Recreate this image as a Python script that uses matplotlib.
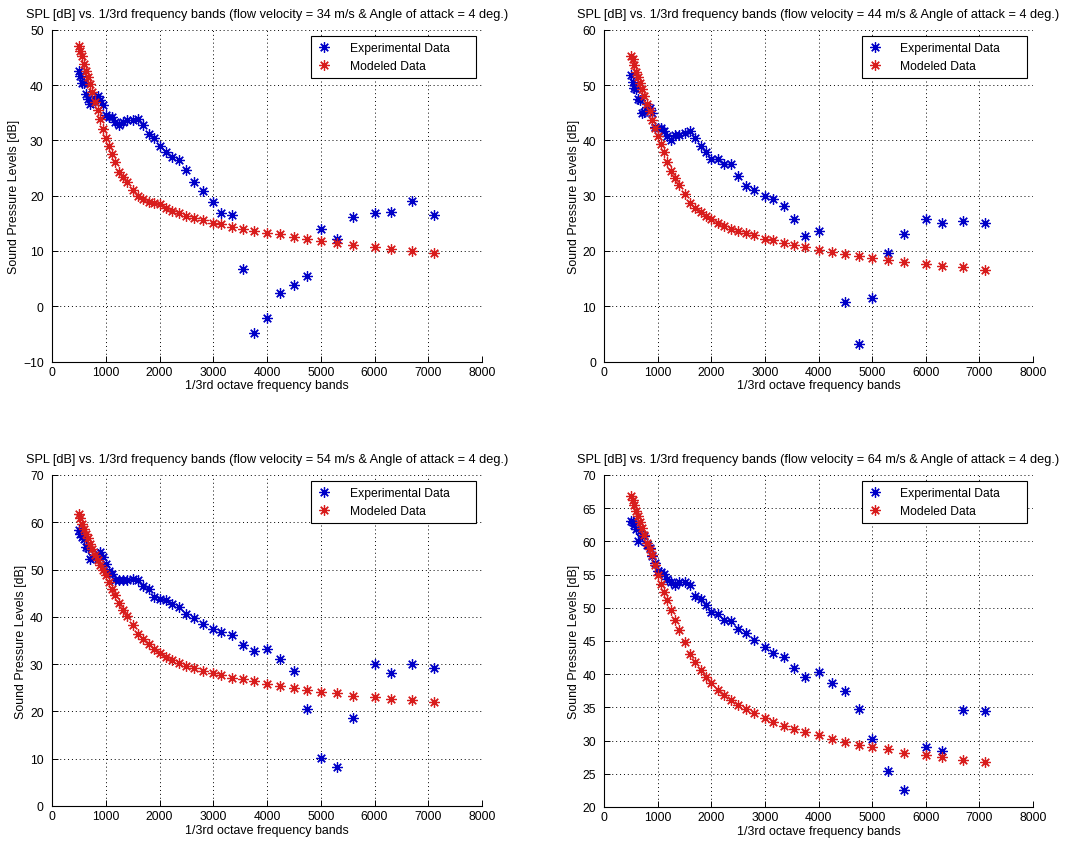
import numpy as np
import matplotlib

matplotlib.use("Agg")

import matplotlib.pyplot as plt

plt.rcParams["font.family"] = ["Liberation Sans", "DejaVu Sans"]

# 1/12-octave band centre frequencies [Hz]
freqs = [500, 530, 560, 600, 630, 670, 710, 750, 800, 850, 900, 950,
         1000, 1060, 1120, 1180, 1250, 1320, 1400, 1500, 1600, 1700, 1800, 1900,
         2000, 2120, 2240, 2360, 2500, 2650, 2800, 3000, 3150, 3350, 3550, 3750,
         4000, 4250, 4500, 4750, 5000, 5300, 5600, 6000, 6300, 6700, 7100]

velocities = [34, 44, 54, 64]

exp_34 = [42.6, 41.6, 40.4, 40.3, 38.4, 37.5, 36.6, 36.9, 37.5, 38.0, 37.2, 36.4,
          34.5, 34.3, 34.3, 33.3, 32.8, 33.3, 33.6, 33.7, 33.9, 32.7, 31.1, 30.4,
          29.0, 27.8, 27.0, 26.4, 24.6, 22.5, 20.8, 18.9, 16.8, 16.5, 6.8, -4.8,
          -2.1, 2.3, 3.9, 5.5, 14.0, 12.2, 16.1, 16.9, 17.0, 19.0, 16.5]
mod_34 = [47.1, 46.2, 45.3, 43.8, 42.6, 41.4, 40.1, 38.7, 37.0, 35.4, 33.9, 32.1,
          30.5, 29.0, 27.5, 26.0, 24.3, 23.3, 22.4, 21.1, 20.0, 19.4, 18.9, 18.7,
          18.4, 17.7, 17.2, 16.9, 16.4, 15.9, 15.5, 15.1, 14.8, 14.3, 14.0, 13.6,
          13.3, 13.0, 12.5, 12.2, 11.8, 11.4, 11.1, 10.7, 10.4, 10.0, 9.7]

exp_44 = [51.8, 50.5, 49.5, 49.3, 47.5, 47.3, 45.0, 45.1, 46.0, 45.8, 44.9, 42.4,
          42.3, 42.2, 41.6, 40.8, 40.1, 41.0, 40.9, 41.3, 41.6, 40.4, 38.9, 37.8,
          36.6, 36.6, 35.7, 35.7, 33.6, 31.8, 31.0, 29.9, 29.3, 28.1, 25.7, 22.7,
          23.6, np.nan, 10.7, 3.2, 11.4, 19.6, 23.1, 25.7, 25.0, 25.4, 25.0]
mod_44 = [55.3, 54.7, 53.7, 52.3, 51.4, 50.4, 49.2, 48.0, 46.6, 45.3, 43.7, 42.2,
          40.8, 39.3, 37.8, 36.1, 34.5, 33.1, 31.9, 30.3, 28.7, 27.8, 27.0, 26.3,
          25.7, 25.1, 24.5, 24.0, 23.6, 23.3, 22.8, 22.2, 21.9, 21.5, 21.1, 20.7,
          20.2, 19.8, 19.5, 19.1, 18.7, 18.3, 18.0, 17.7, 17.3, 17.0, 16.6]

exp_54 = [58.4, 57.6, 56.9, 56.4, 54.8, 54.5, 52.3, 52.6, 52.4, 53.3, 53.7, 52.6,
          51.2, 49.8, 49.1, 47.9, 47.7, 47.7, 47.9, 48.0, 47.9, 46.5, 45.9, 44.2,
          43.7, 43.5, 42.7, 42.0, 40.5, 39.7, 38.4, 37.5, 36.8, 36.1, 34.0, 32.8,
          33.2, 31.1, 28.6, 20.5, 10.2, 8.2, 18.6, 30.1, 28.2, 30.1, 29.2]
mod_54 = [61.8, 60.9, 59.6, 58.6, 57.5, 56.6, 55.4, 54.4, 53.1, 52.0, 51.0, 50.0,
          48.9, 47.3, 45.9, 44.6, 43.0, 41.5, 40.1, 38.3, 36.4, 35.3, 34.3, 33.2,
          32.4, 31.6, 30.9, 30.3, 29.7, 29.1, 28.6, 28.1, 27.6, 27.1, 26.8, 26.4,
          25.7, 25.3, 24.9, 24.5, 24.2, 23.8, 23.3, 23.0, 22.6, 22.4, 22.0]

exp_64 = [63.1, 62.9, 62.5, 61.9, 60.0, 61.5, 61.0, 60.8, 59.5, 59.0, 57.8, 56.8,
          55.6, 55.4, 55.1, 54.3, 53.9, 53.4, 53.9, 53.9, 53.4, 51.8, 51.4, 50.4,
          49.3, 49.1, 48.2, 48.0, 46.8, 46.2, 45.2, 44.1, 43.2, 42.6, 41.0, 39.6,
          40.3, 38.6, 37.5, 34.8, 30.2, 25.4, 22.6, 29.1, 28.4, 34.6, 34.4]
mod_64 = [66.9, 66.2, 65.5, 64.6, 63.8, 62.9, 62.0, 61.0, 59.8, 58.8, 57.9, 56.5,
          55.0, 53.6, 52.4, 51.1, 49.6, 48.1, 46.7, 44.8, 43.0, 41.9, 40.7, 39.6,
          38.6, 37.6, 36.9, 36.1, 35.3, 34.8, 34.2, 33.4, 32.8, 32.2, 31.8, 31.3,
          30.8, 30.3, 29.8, 29.4, 29.0, 28.7, 28.2, 27.8, 27.5, 27.1, 26.8]

exp_data = [exp_34, exp_44, exp_54, exp_64]
mod_data = [mod_34, mod_44, mod_54, mod_64]

y_ranges = [(-10, 50, 10), (0, 60, 10), (0, 70, 10), (20, 70, 5)]

W, H = 1066, 845
# axes boxes in pixels: left, top, right, bottom
boxes = [(52, 30.7, 482, 362.5), (604.3, 30.7, 1032.7, 362.5),
         (52, 476, 482, 807), (604.3, 476, 1032.7, 808)]

# matlab-like asterisk marker (8 spokes)
star = (8, 2, 0)

fig = plt.figure(figsize=(W / 100, H / 100), dpi=100)

for i in range(4):
    l, t, r, b = boxes[i]
    ax = fig.add_axes([l / W, 1 - b / H, (r - l) / W, (b - t) / H])

    ax.plot(freqs, exp_data[i], linestyle="none", marker=star, color="#0000c8",
            markersize=7.5, markeredgewidth=0.9, label="Experimental Data      ")
    ax.plot(freqs, mod_data[i], linestyle="none", marker=star, color="#d81c1c",
            markersize=7.5, markeredgewidth=0.9, label="Modeled Data")

    lo, hi, step = y_ranges[i]
    ax.set_xlim(0, 8000)
    ax.set_ylim(lo, hi)
    ax.set_xticks(np.arange(0, 8001, 1000))
    ax.set_yticks(np.arange(lo, hi + 0.1, step))

    ax.grid(True, color="black", linestyle=(0, (1, 3)), linewidth=0.7)
    for side in ["top", "right"]:
        ax.spines[side].set_visible(False)
    for side in ["left", "bottom"]:
        ax.spines[side].set_linewidth(0.8)
    ax.tick_params(direction="in", length=4, width=0.7, labelsize=8.7)
    ax.tick_params(axis="y", pad=6)
    ax.tick_params(axis="x", pad=3)

    ax.set_title("SPL [dB] vs. 1/3rd frequency bands (flow velocity = %d m/s & "
                 "Angle of attack = 4 deg.)" % velocities[i], fontsize=9.2, pad=9)
    ax.set_xlabel("1/3rd octave frequency bands", fontsize=8.9, labelpad=1)
    ax.set_ylabel("Sound Pressure Levels [dB]", fontsize=8.9, labelpad=2)

    leg = ax.legend(loc="upper right", fontsize=8.7, fancybox=False,
                    framealpha=1, edgecolor="black", handlelength=1.2,
                    handletextpad=1.5, borderaxespad=0.5, borderpad=0.5,
                    labelspacing=0.5)
    leg.get_frame().set_linewidth(0.8)

fig.savefig("out.png", dpi=100)
